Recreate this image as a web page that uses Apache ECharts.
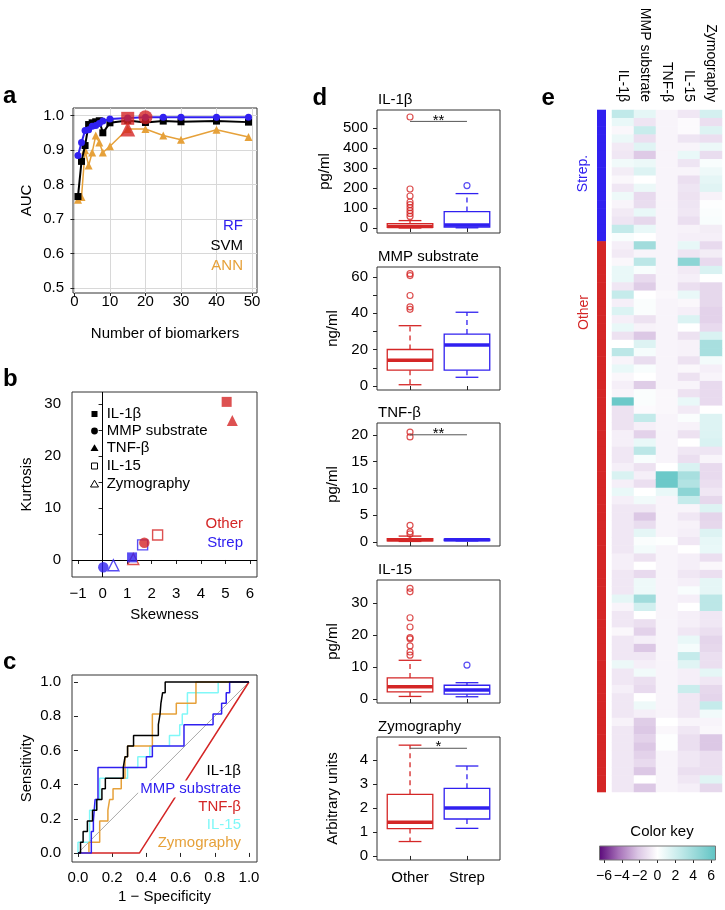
<!DOCTYPE html>
<html><head><meta charset="utf-8">
<script src="https://cdn.jsdelivr.net/npm/echarts@6/dist/echarts.min.js"></script>
<style>html,body{margin:0;padding:0;background:#fff}#c{width:725px;height:910px}</style>
</head><body><div id="c"></div>
<script>
// ---------------- DATA ----------------
const biomarkers = ['IL-1β','MMP substrate','TNF-β','IL-15','Zymography'];
const groups = ['Other','Strep'];

// panel a
const nBiomarkers = [1,2,3,4,5,6,7,8,10,15,20,25,30,40,49];
const aucRF  = [0.884,0.922,0.957,0.959,0.969,0.971,0.977,0.984,0.990,0.993,0.995,0.995,0.995,0.995,0.995];
const aucSVM = [0.765,0.867,0.913,0.974,0.979,0.982,0.985,0.950,0.979,0.986,0.980,0.984,0.982,0.984,0.981];
const aucANN = [0.756,0.764,0.899,0.855,0.893,0.942,0.922,0.893,0.911,0.961,0.961,0.942,0.930,0.959,0.938];
const bestSVM = [15, 0.992];
const bestRF  = [20, 0.995];
const bestANN = [15, 0.961];
const aucXTicks = [0,10,20,30,40,50];
const aucYTicks = [0.5,0.6,0.7,0.8,0.9,1.0];

// panel b (order of biomarkers)
const skewOther = [5.05, 1.70, 5.28, 2.24, 1.25];
const kurtOther = [30.4, 3.3, 26.8, 4.8, 0.2];
const skewStrep = [1.20, 0.03, null, 1.63, 0.44];
const kurtStrep = [0.5, -1.4, null, 2.9, -1.0];
const skewTicks = [-1,0,1,2,3,4,5,6];
const kurtTicks = [0,5,10,15,20,25,30];
const kurtLabels = [0,10,20,30];

// panel c  ROC vertices [1-specificity, sensitivity]
const rocIL1b = [[0,0],[0.015,0],[0.015,0.0625],[0.03,0.0625],[0.03,0.125],[0.055,0.125],[0.055,0.1875],[0.085,0.1875],[0.085,0.25],[0.11,0.25],[0.11,0.3125],[0.14,0.3125],[0.14,0.375],[0.16,0.375],[0.16,0.4375],[0.265,0.4375],[0.265,0.5],[0.275,0.5],[0.275,0.5625],[0.29,0.5625],[0.29,0.625],[0.325,0.625],[0.325,0.6875],[0.47,0.6875],[0.47,0.75],[0.48,0.75],[0.48,0.8125],[0.485,0.8125],[0.485,0.875],[0.495,0.875],[0.495,0.9375],[0.51,0.9375],[0.51,1],[1,1]];
const rocMMP = [[0,0],[0.078,0],[0.078,0.125],[0.09,0.125],[0.09,0.1875],[0.1,0.1875],[0.1,0.3125],[0.117,0.3125],[0.117,0.5],[0.4,0.5],[0.4,0.5625],[0.435,0.5625],[0.435,0.625],[0.62,0.625],[0.62,0.75],[0.79,0.75],[0.79,0.8125],[0.84,0.8125],[0.84,0.875],[0.867,0.875],[0.867,0.9375],[0.887,0.9375],[0.887,1],[1,1]];
const rocTNF = [[0,0],[0.36,0],[1,1]];
const rocIL15 = [[0,0],[0,0.0625],[0.068,0.0625],[0.068,0.25],[0.107,0.25],[0.107,0.3125],[0.127,0.3125],[0.127,0.4375],[0.29,0.4375],[0.29,0.5],[0.35,0.5],[0.35,0.5625],[0.42,0.5625],[0.42,0.625],[0.535,0.625],[0.535,0.6875],[0.595,0.6875],[0.595,0.75],[0.61,0.75],[0.61,0.8125],[0.64,0.8125],[0.64,0.9375],[0.82,0.9375],[0.82,1],[1,1]];
const rocZymo = [[0,0],[0.064,0],[0.064,0.0625],[0.127,0.0625],[0.127,0.1875],[0.175,0.1875],[0.175,0.25],[0.185,0.25],[0.185,0.3125],[0.205,0.3125],[0.205,0.375],[0.253,0.375],[0.253,0.4375],[0.275,0.4375],[0.275,0.5625],[0.29,0.5625],[0.29,0.625],[0.435,0.625],[0.435,0.8125],[0.575,0.8125],[0.575,0.875],[0.69,0.875],[0.69,1],[1,1]];
const rocDiag = [[0,0],[1,1]];
const rocTicks = [0,0.2,0.4,0.6,0.8,1.0];

// panel d  boxes: [min, Q1, median, Q3, max] for Other, Strep
const il1bBox = [[0,3,8,22,37],[1,5,15,82,172]];
const il1bOutOther = [58,73,87,102,117,130,160,195,555];
const il1bOutStrep = [212];
const mmpBox = [[0.7,8.7,14.2,20.1,33.2],[4.8,8.7,22.5,28.6,40.6]];
const mmpOutOther = [42.2,43.6,49.8,60.8,61.8];
const mmpOutStrep = [];
const tnfBox = [[0.1,0.2,0.4,0.6,1.1],[0.2,0.25,0.4,0.55,0.6]];
const tnfOutOther = [1.5,1.9,3.1,19.6,20.5];
const tnfOutStrep = [];
const il15Box = [[0.8,2.2,3.8,6.6,12.1],[0.7,1.5,2.8,4.3,5.1]];
const il15OutOther = [13.7,14.7,16.6,18.8,19.2,22.5,25.4,33.5,34.6];
const il15OutStrep = [10.6];
const zymoBox = [[0.6,1.14,1.4,2.57,4.62],[1.15,1.54,2.0,2.82,3.75]];
const zymoOutOther = [];
const zymoOutStrep = [];
const sigY = [533, null, 20.0, null, 4.49];
const sigText = ['**', '', '**', '', '*'];
const dTicks = [[0,100,200,300,400,500],[0,10,20,30,40,50,60],[0,5,10,15,20],[0,10,20,30],[0,1,2,3,4]];
const dLabels = [[0,100,200,300,400,500],[0,20,40,60],[0,5,10,15,20],[0,10,20,30],[0,1,2,3,4]];
const dUnits = ['pg/ml','ng/ml','pg/ml','pg/ml','Arbitrary units'];

// panel e heatmap (rows top to bottom: 16 Strep then 67 Other)
const nStrep = 16;
const heatIL1b = [2.6,0.9,-0.3,0.8,-0.8,-0.9,0.6,-0.7,-0.3,-0.9,0.7,-0.4,-0.8,-1.0,2.5,0.3,
 -0.6,-0.8,-0.3,0.9,0.9,-0.9,2.4,-0.6,1.5,-0.6,0.9,-1.1,0.0,2.8,-0.4,0.9,-0.3,-0.6,-0.4,6.0,
 -1.1,-1.1,-1.1,-0.6,-0.6,-0.9,-0.9,-0.6,1.6,-0.6,0.9,-0.6,-0.9,-0.9,-0.9,-0.9,-0.9,-0.9,-0.6,
 -0.6,-0.9,-0.9,-0.9,1.1,-0.4,-0.9,-0.9,-0.3,-0.9,-0.9,-0.9,0.8,-0.9,-0.9,-0.6,-0.9,-0.9,-0.9,
 -0.5,-0.9,-0.9,-0.9,-0.9,-0.9,-0.9,-0.9,-0.9];
const heatMMP = [1.1,-1.0,2.3,-1.2,1.3,-2.0,0.8,1.4,0.0,0.8,-1.4,-1.3,0.9,-1.5,0.9,0.0,
 3.9,-0.4,2.8,0.3,-1.4,-1.9,0.0,0.2,0.2,-1.1,-0.5,-2.1,1.4,0.4,-1.3,0.3,0.0,-1.9,0.2,0.2,
 -0.2,2.5,-0.6,-1.7,0.9,2.8,0.3,-1.1,-0.6,-1.2,0.0,0.6,-0.9,-2.1,-1.3,1.1,0.2,0.5,-1.1,
 0.0,-1.4,0.7,0.7,3.9,1.9,0.0,-1.2,-1.7,-0.6,-2.1,-0.9,-0.6,0.6,-1.2,-1.4,0.0,0.7,-0.6,
 -1.9,-2.1,-1.7,-2.1,-1.7,-1.4,-2.1,0.0,-2.1];
const heatTNF = [-0.4,-0.4,-0.4,-0.4,-0.4,-0.4,-0.4,-0.4,-0.4,-0.4,-0.4,-0.4,-0.4,-0.4,-0.4,-0.4,
 -0.4,-0.4,-0.4,-0.4,-0.4,-0.4,-0.3,-0.4,-0.4,-0.4,-0.4,-0.4,-0.4,-0.4,-0.4,-0.4,-0.4,-0.4,-0.3,-0.3,
 -0.3,-0.4,-0.4,-0.4,-0.4,-0.4,-0.4,0.0,6.0,6.0,0.9,-0.4,-0.4,-0.4,-0.4,-0.4,0.1,-0.4,-0.4,
 -0.4,-0.4,-0.4,-0.4,-0.4,-0.4,-0.4,-0.4,-0.4,-0.4,-0.4,-0.4,-0.4,-0.4,-0.4,-0.4,-0.4,-0.4,-0.4,
 0.0,-0.3,0.1,0.1,-0.4,-0.4,-0.4,-0.4,-0.4];
const heatIL15 = [-0.9,-0.2,-0.2,-1.0,-0.4,0.9,-1.0,-0.4,-1.2,-1.0,-1.1,-1.0,-0.9,-1.2,-0.5,-0.6,
 1.0,-1.0,4.7,-0.8,-0.6,-1.2,0.9,-0.3,-0.6,1.5,0.0,-1.1,-0.5,-0.5,-1.1,-0.3,-1.1,-0.4,-1.1,0.9,
 -0.8,0.2,-0.5,-1.1,0.0,-0.9,-1.2,1.6,3.6,3.2,4.7,2.4,-0.4,-0.9,-0.5,-0.6,-0.9,0.0,-0.6,
 -0.6,-0.9,-0.6,0.3,-0.6,0.0,-0.6,-0.6,-0.9,0.9,0.4,2.4,1.3,-0.6,-0.6,2.2,-0.9,-0.9,-0.9,
 -0.4,-0.9,-1.2,-1.2,-0.9,-0.9,-1.2,-0.9,-0.6];
const heatZymo = [1.8,-1.2,1.4,-1.2,0.8,-1.3,0.3,0.7,1.1,1.3,-0.5,0.1,0.2,0.3,-0.7,-0.6,
 -1.4,-0.7,-1.4,1.6,0.0,-1.5,-1.5,-1.5,-1.7,-1.7,-1.4,1.6,3.6,3.6,0.5,-0.6,-0.4,-1.4,-1.4,-1.4,
 0.0,1.4,1.4,1.4,1.6,-1.0,-0.4,-1.4,-1.4,-1.2,-0.9,-1.5,1.4,-1.6,-1.5,1.4,1.0,0.9,-1.2,
 -0.3,-1.2,1.1,1.1,2.8,2.8,-0.9,-0.9,-1.2,-1.6,-1.5,-1.2,-1.2,1.1,-0.9,-1.5,-1.6,2.4,0.6,
 -0.4,-0.3,-2.1,-2.1,-1.2,-1.2,-1.2,1.3,-1.5];
const heatColors = ['#5a087a','#a670b8','#dbc6e4','#ffffff','#cbeded','#96d8d8','#60c4c4'];
const keyTicks = [-6,-4,-2,0,2,4,6];

// ---------------- STYLE ----------------
const FONT = '"Liberation Sans", Arial, Helvetica, sans-serif';
const RED = '#d42626', BLUE = '#3020f0', ORANGE = '#e6a13a', CYAN = '#80f8f8', BLACK = '#000';
const minus = v => (v < 0 ? '\u2212' : '') + Math.abs(v);

const grids = [], xAxes = [], yAxes = [], series = [], graphics = [];
function addGrid(l, t, w, h, extra) {
  grids.push(Object.assign({left:l, top:t, width:w, height:h, containLabel:false, outerBoundsMode:'none',
    show:true, borderColor:'#333', borderWidth:1, backgroundColor:'transparent'}, extra || {}));
  return grids.length - 1;
}
function valAxis(gi, min, max, ticks, labels, margin, fmt, more) {
  const ax = {
    type:'value', gridIndex:gi, min:min, max:max,
    axisLine:{show:false},
    axisTick:{show:true, length:4, lineStyle:{color:'#222', width:1}, customValues:ticks},
    axisLabel:{show: labels !== null, color:'#000', fontSize:15, fontFamily:FONT, margin:margin,
      customValues: labels || [], formatter: fmt, hideOverlap:false},
    splitLine:{show:false}, splitArea:{show:false}, minorTick:{show:false},
    nameTextStyle:{fontSize:15, color:'#000', fontFamily:FONT}
  };
  return Object.assign(ax, more || {});
}
const pushX = a => xAxes.push(a) - 1;
const pushY = a => yAxes.push(a) - 1;
const zip = (xs, ys) => xs.map((x, i) => [x, ys[i]]);
const txt = (x, y, s, o) => Object.assign({type:'text', x:x, y:y, silent:true,
  style:Object.assign({text:s, fill:'#000', fontSize:15, fontFamily:FONT, align:'left', verticalAlign:'middle'}, (o && o.style) || {})},
  o ? {rotation:o.rotation || 0, z:o.z || 10} : {z:10});

// ---------------- PANEL a ----------------
{
  const g = addGrid(73, 108, 184, 185);
  const gridLine = {show:true, lineStyle:{color:'#d8d8d8', width:1}};
  const xi = pushX(valAxis(g, -0.4, 51.4, aucXTicks, aucXTicks, 1, v => String(v),
    {splitLine:gridLine, name:'Number of biomarkers', nameLocation:'middle', nameGap:33,
     nameTextStyle:{fontSize:15, color:'#000', fontFamily:FONT}}));
  xAxes[xi].axisTick.length = 3;
  const yi = pushY(valAxis(g, 0.485, 1.022, aucYTicks, aucYTicks, 9, v => v.toFixed(1),
    {splitLine:gridLine, name:'AUC', nameLocation:'middle', nameGap:39, nameRotate:90,
     nameTextStyle:{fontSize:15, color:'#000', fontFamily:FONT}}));
  const common = {xAxisIndex:xi, yAxisIndex:yi, silent:true, animation:false};
  series.push(Object.assign({type:'line', data:zip(nBiomarkers, aucANN), symbol:'triangle', symbolSize:8,
    lineStyle:{color:ORANGE, width:1.5}, itemStyle:{color:ORANGE}, z:3}, common));
  series.push(Object.assign({type:'line', data:zip(nBiomarkers, aucSVM), symbol:'rect', symbolSize:7,
    lineStyle:{color:BLACK, width:2}, itemStyle:{color:BLACK}, z:4}, common));
  series.push(Object.assign({type:'line', data:zip(nBiomarkers, aucRF), symbol:'circle', symbolSize:7,
    lineStyle:{color:BLUE, width:2}, itemStyle:{color:BLUE}, z:5}, common));
  series.push(Object.assign({type:'scatter', data:[bestSVM], symbol:'rect', symbolSize:13, itemStyle:{color:RED}, z:6}, common));
  series.push(Object.assign({type:'scatter', data:[bestRF], symbol:'circle', symbolSize:14, itemStyle:{color:RED}, z:6}, common));
  series.push(Object.assign({type:'scatter', data:[bestANN], symbol:'triangle', symbolSize:15, itemStyle:{color:RED}, z:6}, common));
  graphics.push(txt(243, 226, 'RF', {style:{fill:BLUE, align:'right'}}));
  graphics.push(txt(243, 245.5, 'SVM', {style:{fill:BLACK, align:'right'}}));
  graphics.push(txt(243, 266, 'ANN', {style:{fill:ORANGE, align:'right'}}));
}

// ---------------- PANEL b ----------------
{
  const g = addGrid(72, 392, 185, 185);
  const xi = pushX(valAxis(g, -1.244, 6.285, skewTicks, skewTicks, 9.5, minus,
    {name:'Skewness', nameLocation:'middle', nameGap:30, nameTextStyle:{fontSize:15, color:'#000', fontFamily:FONT}}));
  const yi = pushY(valAxis(g, -3.27, 32.3, kurtTicks, kurtLabels, 11, minus,
    {name:'Kurtosis', nameLocation:'middle', nameGap:38, nameRotate:90, nameTextStyle:{fontSize:15, color:'#000', fontFamily:FONT}}));
  const syms = ['rect','circle','triangle','rect','triangle'];
  const filled = [true,true,true,false,false];
  const sizes = [10,10.5,11,10,11];
  const order = [3,4,0,2,1];
  order.forEach((m, k) => {
    const data = [];
    const mk = (sx, ky, col) => ({value:[sx, ky], itemStyle: filled[m]
      ? {color:col} : {color:'transparent', borderColor:col, borderWidth:1.4}});
    if (skewStrep[m] !== null) data.push(mk(skewStrep[m], kurtStrep[m], BLUE));
    data.push(mk(skewOther[m], kurtOther[m], RED));
    const s = {type:'scatter', name:biomarkers[m], xAxisIndex:xi, yAxisIndex:yi, silent:true, symbol:syms[m],
      symbolSize:sizes[m], data:data, z:4 + k};
    if (k === 0) {
      s.markLine = {silent:true, symbol:'none', label:{show:false}, animation:false,
        lineStyle:{color:'#000', width:1, type:'solid'}, data:[{xAxis:0}, {yAxis:0}]};
    }
    series.push(s);
  });
  // legend glyphs
  const lx = 94.5, ly = [414, 431, 448, 466, 484];
  graphics.push({type:'rect', shape:{x:lx-3, y:ly[0]-3, width:6, height:6}, style:{fill:'#000'}, z:10});
  graphics.push({type:'circle', shape:{cx:lx, cy:ly[1], r:3.4}, style:{fill:'#000'}, z:10});
  graphics.push({type:'polygon', shape:{points:[[lx, ly[2]-3.8],[lx+4, ly[2]+3],[lx-4, ly[2]+3]]}, style:{fill:'#000'}, z:10});
  graphics.push({type:'rect', shape:{x:lx-3, y:ly[3]-3, width:6, height:6}, style:{fill:'none', stroke:'#000', lineWidth:1}, z:10});
  graphics.push({type:'polygon', shape:{points:[[lx, ly[4]-3.8],[lx+4, ly[4]+3],[lx-4, ly[4]+3]]}, style:{fill:'none', stroke:'#000', lineWidth:1}, z:10});
  biomarkers.forEach((b, i) => graphics.push(txt(106.7, ly[i], b)));
  graphics.push(txt(243, 524, 'Other', {style:{fill:RED, align:'right'}}));
  graphics.push(txt(243, 542.5, 'Strep', {style:{fill:BLUE, align:'right'}}));
}

// ---------------- PANEL c ----------------
{
  const g = addGrid(72, 675, 185, 187);
  const xi = pushX(valAxis(g, -0.035, 1.047, rocTicks, rocTicks, 8.5, v => v.toFixed(1),
    {name:'1 \u2212 Specificity', nameLocation:'middle', nameGap:27, nameTextStyle:{fontSize:15, color:'#000', fontFamily:FONT}}));
  const yi = pushY(valAxis(g, -0.053, 1.041, rocTicks, rocTicks, 11, v => v.toFixed(1),
    {name:'Sensitivity', nameLocation:'middle', nameGap:38, nameRotate:90, nameTextStyle:{fontSize:15, color:'#000', fontFamily:FONT}}));
  const ln = (data, col, w, z) => ({type:'line', xAxisIndex:xi, yAxisIndex:yi, silent:true, data:data,
    symbol:'none', lineStyle:{color:col, width:w}, z:z});
  series.push(ln(rocDiag, '#aaaaaa', 1, 2));
  series.push(ln(rocTNF, RED, 1.5, 3));
  series.push(ln(rocIL15, CYAN, 1.5, 4));
  series.push(ln(rocZymo, ORANGE, 1.5, 5));
  series.push(ln(rocMMP, BLUE, 1.5, 6));
  series.push(ln(rocIL1b, BLACK, 1.5, 7));
  const cols = [BLACK, BLUE, RED, CYAN, ORANGE];
  const ys = [771, 789, 807, 824.5, 843];
  biomarkers.forEach((b, i) => graphics.push(txt(243, ys[i], b,
    {style:{fill:cols[i], align:'right', backgroundColor:'#fff', padding:[1,2,1,2]}, z:100})));
}

// ---------------- PANEL d ----------------
const boxSets = [il1bBox, mmpBox, tnfBox, il15Box, zymoBox];
const outOther = [il1bOutOther, mmpOutOther, tnfOutOther, il15OutOther, zymoOutOther];
const outStrep = [il1bOutStrep, mmpOutStrep, tnfOutStrep, il15OutStrep, zymoOutStrep];
const dTops = [110, 267, 423, 580, 737];
const dRanges = [[-25, 590], [-2.2, 65.5], [-0.75, 22.2], [-1.25, 37.2], [-0.17, 4.96]];
function boxRender(params, api) {
  const x = api.value(0);
  const v = [1,2,3,4,5].map(i => api.value(i));
  const cx = api.coord([x, v[2]])[0];
  const y = val => api.coord([x, val])[1];
  const hw = api.size([0.4, 0])[0];
  const col = x === 1 ? RED : BLUE;
  const st = {stroke:col, lineWidth:1.3};
  return {type:'group', children:[
    {type:'line', shape:{x1:cx, y1:y(v[3]), x2:cx, y2:y(v[4])}, style:{stroke:col, lineWidth:1.3, lineDash:[5,4]}},
    {type:'line', shape:{x1:cx, y1:y(v[1]), x2:cx, y2:y(v[0])}, style:{stroke:col, lineWidth:1.3, lineDash:[5,4]}},
    {type:'line', shape:{x1:cx-hw/2, y1:y(v[4]), x2:cx+hw/2, y2:y(v[4])}, style:st},
    {type:'line', shape:{x1:cx-hw/2, y1:y(v[0]), x2:cx+hw/2, y2:y(v[0])}, style:st},
    {type:'rect', shape:{x:cx-hw, y:y(v[3]), width:2*hw, height:y(v[1])-y(v[3])}, style:{fill:'none', stroke:col, lineWidth:1.3}},
    {type:'line', shape:{x1:cx-hw, y1:y(v[2]), x2:cx+hw, y2:y(v[2])}, style:{stroke:col, lineWidth:3.5}}
  ]};
}
for (let i = 0; i < 5; i++) {
  const g = addGrid(377, dTops[i], 123, 123);
  const xi = pushX(valAxis(g, 0.42, 2.58, [1,2], i === 4 ? [1,2] : null, 10.5, v => groups[Math.round(v) - 1]));
  const yi = pushY(valAxis(g, dRanges[i][0], dRanges[i][1], dTicks[i], dLabels[i], 9, v => String(v),
    {name:dUnits[i], nameLocation:'middle', nameGap: i === 0 ? 44.5 : 36.5, nameRotate:90,
     nameTextStyle:{fontSize:15, color:'#000', fontFamily:FONT}}));
  const bx = boxSets[i];
  series.push({type:'custom', xAxisIndex:xi, yAxisIndex:yi, silent:true, clip:false,
    data:[[1].concat(bx[0]), [2].concat(bx[1])], encode:{x:0, y:[1,2,3,4,5]}, renderItem:boxRender, z:3});
  series.push({type:'scatter', xAxisIndex:xi, yAxisIndex:yi, silent:true, symbol:'circle', symbolSize:6,
    data:outOther[i].map(v => [1, v]), itemStyle:{color:'transparent', borderColor:RED, borderWidth:1.2}, z:4});
  series.push({type:'scatter', xAxisIndex:xi, yAxisIndex:yi, silent:true, symbol:'circle', symbolSize:6,
    data:outStrep[i].map(v => [2, v]), itemStyle:{color:'transparent', borderColor:BLUE, borderWidth:1.2}, z:4});
  if (sigY[i] !== null) {
    const label = sigText[i];
    series.push({type:'custom', xAxisIndex:xi, yAxisIndex:yi, silent:true, clip:false,
      data:[[1, 2, sigY[i]]], encode:{x:[0,1], y:2}, z:5,
      renderItem:(p, api) => {
        const a = api.coord([api.value(0), api.value(2)]);
        const b = api.coord([api.value(1), api.value(2)]);
        return {type:'group', children:[
          {type:'line', shape:{x1:a[0], y1:a[1], x2:b[0], y2:b[1]}, style:{stroke:'#555', lineWidth:1}},
          {type:'text', x:(a[0]+b[0])/2, y:a[1]-1, style:{text:label, fill:'#000', fontSize:15, fontFamily:FONT,
            align:'center', verticalAlign:'middle'}}
        ]};
      }});
  }
  graphics.push(txt(378, dTops[i] - 10.5, biomarkers[i]));
}

// ---------------- PANEL e ----------------
const heatCols = [heatIL1b, heatMMP, heatTNF, heatIL15, heatZymo];
const rowIds = heatIL1b.map((_, i) => String(i));
const heatData = [];
heatCols.forEach((col, c) => col.forEach((v, r) => heatData.push([c, r, v])));
let heatSeriesIndex;
{
  const g = addGrid(612, 110, 110, 682, {show:false});
  const xi = pushX({type:'category', gridIndex:g, position:'top', data:biomarkers,
    axisLine:{show:false}, axisTick:{show:false}, splitLine:{show:false},
    axisLabel:{rotate:90, interval:0, margin:8, fontSize:14, color:'#000', fontFamily:FONT}});
  const yi = pushY({type:'category', gridIndex:g, data:rowIds, inverse:true, show:false});
  heatSeriesIndex = series.length;
  series.push({type:'heatmap', xAxisIndex:xi, yAxisIndex:yi, silent:true, data:heatData, progressive:0,
    itemStyle:{borderWidth:0}});
}
{
  const g = addGrid(597, 110, 9, 682, {show:false});
  const xi = pushX({type:'category', gridIndex:g, data:['g'], show:false});
  const yi = pushY({type:'category', gridIndex:g, data:rowIds, inverse:true, show:false});
  series.push({type:'custom', xAxisIndex:xi, yAxisIndex:yi, silent:true,
    data:rowIds.map((r, i) => [0, i, i < nStrep ? 1 : 0]), encode:{x:0, y:1},
    renderItem:(p, api) => {
      const c = api.coord([api.value(0), api.value(1)]);
      const s = api.size([1, 1]);
      return {type:'rect', shape:{x:c[0]-s[0]/2, y:c[1]-s[1]/2-0.3, width:s[0], height:s[1]+0.6},
        style:{fill: api.value(2) === 1 ? BLUE : RED}};
    }});
  graphics.push(txt(583.5, 173.5, 'Strep.', {rotation:Math.PI/2, style:{fill:BLUE, fontSize:14, align:'center'}}));
  graphics.push(txt(584, 312.5, 'Other', {rotation:Math.PI/2, style:{fill:RED, fontSize:14, align:'center'}}));
}
{
  const g = addGrid(599.5, 846, 116, 14, {show:false});
  const xi = pushX(valAxis(g, -6.5, 6.5, keyTicks, keyTicks, 9, minus));
  xAxes[xi].axisTick.length = 3;
  xAxes[xi].axisLabel.fontSize = 14;
  const yi = pushY({type:'value', gridIndex:g, min:0, max:1, show:false});
  const stops = heatColors.map((c, i) => ({offset:i / (heatColors.length - 1), color:c}));
  series.push({type:'custom', xAxisIndex:xi, yAxisIndex:yi, silent:true, data:[[-6.5, 6.5]], encode:{x:[0,1]},
    renderItem:(p, api) => {
      const a = api.coord([api.value(0), 0]);
      const b = api.coord([api.value(1), 1]);
      return {type:'rect', shape:{x:a[0], y:b[1], width:b[0]-a[0], height:a[1]-b[1]},
        style:{fill:new echarts.graphic.LinearGradient(0, 0, 1, 0, stops), stroke:'#777', lineWidth:1}};
    }});
  graphics.push(txt(662, 832, 'Color key', {style:{align:'center'}}));
}

// panel letters
const bold = {fontSize:24, fontWeight:'bold'};
graphics.push(txt(3, 96.5, 'a', {style:bold}));
graphics.push(txt(3, 379.5, 'b', {style:bold}));
graphics.push(txt(3, 662, 'c', {style:bold}));
graphics.push(txt(312.5, 98.5, 'd', {style:bold}));
graphics.push(txt(541.5, 98.5, 'e', {style:bold}));

const chart = echarts.init(document.getElementById('c'), null, {renderer:'canvas'});
chart.setOption({
  animation:false,
  backgroundColor:'#fff',
  textStyle:{fontFamily:FONT},
  tooltip:{show:false},
  grid:grids, xAxis:xAxes, yAxis:yAxes, series:series,
  visualMap:[{type:'continuous', show:false, min:-6.5, max:6.5, dimension:2, seriesIndex:heatSeriesIndex,
    inRange:{color:heatColors}}],
  graphic:{elements:graphics}
});
</script></body></html>
